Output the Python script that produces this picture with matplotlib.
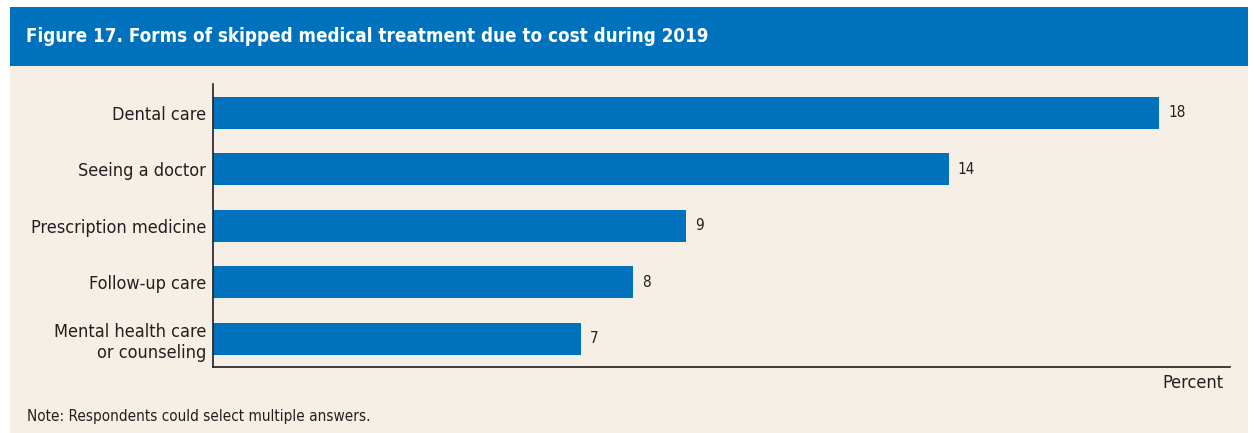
import matplotlib.pyplot as plt
from matplotlib.patches import Rectangle

# Skipped care categories and share of respondents (percent)
categories = ["Dental care", "Seeing a doctor", "Prescription medicine",
              "Follow-up care", "Mental health care\nor counseling"]
values = [18, 14, 9, 8, 7]

title = "Figure 17. Forms of skipped medical treatment due to cost during 2019"
note = "Note: Respondents could select multiple answers."

BLUE = "#0071BC"
CREAM = "#F6EFE6"
INK = "#231F20"

plt.rcParams["font.family"] = ["Liberation Sans Narrow", "DejaVu Sans"]
plt.rcParams["font.stretch"] = "condensed"

W, H = 1254, 433
fig = plt.figure(figsize=(W / 100, H / 100), dpi=100)
fig.patch.set_facecolor("white")

# cream panel + blue title banner
fig.patches.append(Rectangle((10 / W, 0), 1238 / W, 1 - 66 / H,
                             transform=fig.transFigure, facecolor=CREAM,
                             edgecolor="none", zorder=-2))
fig.patches.append(Rectangle((10 / W, 1 - 66 / H), 1238 / W, 59 / H,
                             transform=fig.transFigure, facecolor=BLUE,
                             edgecolor="none", zorder=-2))
fig.text(26 / W, 1 - 36 / H, title, color="white", fontsize=13.5,
         fontweight="bold", va="center", ha="left")

ax = fig.add_axes([213 / W, 1 - 367 / H, (1230 - 213) / W, (367 - 84) / H])
ax.set_zorder(2)
ax.set_facecolor("none")

pos = list(range(len(categories)))
ax.barh(pos, values, height=0.57, color=BLUE)
for p, v in zip(pos, values):
    ax.text(v + 0.17, p, str(v), va="center", ha="left", fontsize=11, color=INK)

ax.set_xlim(0, 19.35)
ax.set_ylim(4.5, -0.51)
ax.set_yticks(pos)
ax.set_yticklabels(categories, fontsize=13, color=INK, linespacing=1.25)
ax.tick_params(axis="y", length=0, pad=5)
ax.set_xticks([])
for side in ["top", "right"]:
    ax.spines[side].set_visible(False)
for side in ["left", "bottom"]:
    ax.spines[side].set_color(INK)
    ax.spines[side].set_linewidth(1.2)

fig.text(1223 / W, 1 - 383 / H, "Percent", ha="right", va="center",
         fontsize=13, color=INK)
fig.text(27 / W, 1 - 417 / H, note, ha="left", va="center",
         fontsize=11, color=INK)

fig.savefig("out.png", dpi=100)
